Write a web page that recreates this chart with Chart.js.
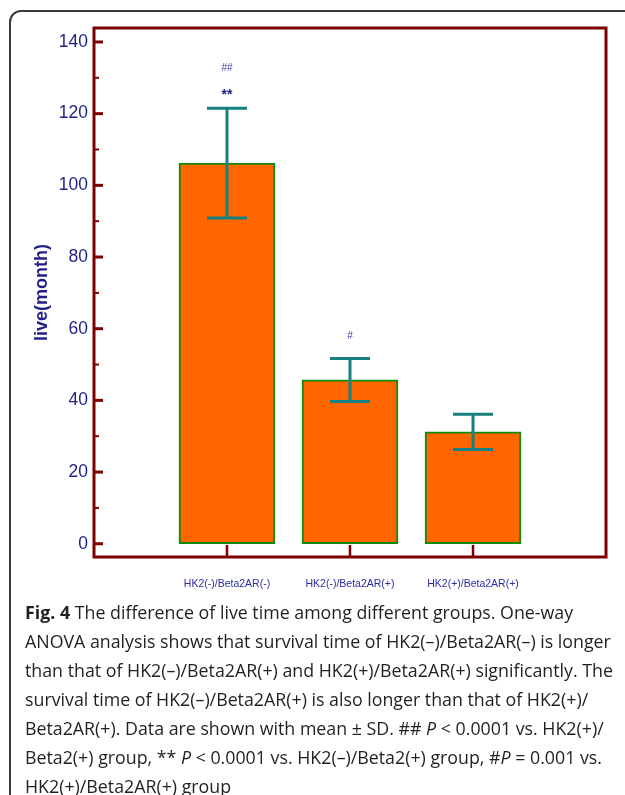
<!DOCTYPE html>
<html>
<head>
<meta charset="utf-8">
<script src="https://cdn.jsdelivr.net/npm/chart.js@4.4.1/dist/chart.umd.min.js"></script>
<style>
  html, body { margin: 0; padding: 0; background: #fff; overflow: hidden; }
  body { width: 625px; height: 795px; position: relative; }
  #frame {
    position: absolute; left: 9px; top: 10px; width: 650px; height: 820px;
    border: 2px solid #3a3a3a; border-radius: 12px; box-sizing: border-box;
  }
  #chart-box { position: absolute; left: 0; top: 0; width: 625px; height: 600px; }
  #caption {
    position: absolute; left: 25px; top: 598px;
    font-family: "Open Sans", sans-serif; font-size: 17.8px; line-height: 29px;
    color: #231f20; white-space: nowrap;
  }
  #caption b { font-weight: 700; }
</style>
</head>
<body>
<div id="frame"></div>
<div id="chart-box"><canvas id="bar-chart" width="625" height="600"></canvas></div>
<div id="caption">
  <b>Fig. 4</b> The difference of live time among different groups. One-way<br>
  ANOVA analysis shows that survival time of HK2(–)/Beta2AR(–) is longer<br>
  than that of HK2(–)/Beta2AR(+) and HK2(+)/Beta2AR(+) significantly. The<br>
  survival time of HK2(–)/Beta2AR(+) is also longer than that of HK2(+)/<br>
  Beta2AR(+). Data are shown with mean ± SD. ## <i>P</i> &lt; 0.0001 vs. HK2(+)/<br>
  Beta2(+) group, ** <i>P</i> &lt; 0.0001 vs. HK2(–)/Beta2(+) group, #<i>P</i> = 0.001 vs.<br>
  HK2(+)/Beta2AR(+) group
</div>
<script>
// chart data
const groups = ["HK2(-)/Beta2AR(-)", "HK2(-)/Beta2AR(+)", "HK2(+)/Beta2AR(+)"];
const groupPos = [1, 2, 3];
const meanLive = [106.2, 45.7, 31.2];
const sdLive = [15.3, 6.0, 4.9];
const sigMarks = [["**", "##"], ["#"], []];
const yTicks = [0, 20, 40, 60, 80, 100, 120, 140];
const yMinorTicks = [10, 30, 50, 70, 90, 110, 130];

const axisRed = "#7d0000";
const navy = "#1f1f8a";

// frame, inside ticks, error bars and significance marks
const decorations = {
    id: "decorations",
    afterDatasetsDraw(chart) {
        const ctx = chart.ctx;
        const area = chart.chartArea;
        const xs = chart.scales.x;
        const ys = chart.scales.y;

        // error bars
        ctx.save();
        ctx.strokeStyle = "#178080";
        ctx.lineWidth = 3;
        meanLive.forEach((m, i) => {
            const x = xs.getPixelForValue(groupPos[i]);
            const top = ys.getPixelForValue(m + sdLive[i]);
            const bot = ys.getPixelForValue(m - sdLive[i]);
            ctx.beginPath();
            ctx.moveTo(x, top); ctx.lineTo(x, bot);
            ctx.moveTo(x - 20, top); ctx.lineTo(x + 20, top);
            ctx.moveTo(x - 20, bot); ctx.lineTo(x + 20, bot);
            ctx.stroke();
        });
        ctx.restore();

        // significance marks above error bars
        ctx.save();
        ctx.textAlign = "center";
        ctx.textBaseline = "middle";
        sigMarks.forEach((marks, i) => {
            const x = xs.getPixelForValue(groupPos[i]);
            const top = ys.getPixelForValue(meanLive[i] + sdLive[i]);
            marks.forEach((mark, j) => {
                const star = mark.indexOf("*") >= 0;
                ctx.fillStyle = star ? navy : "#3a3aa8";
                ctx.font = star ? "bold 14px 'Liberation Sans', sans-serif" : "10px 'Liberation Sans', sans-serif";
                const off = mark === "#" ? 22 : (j === 0 ? 13 : 40);
                ctx.fillText(mark, x, top - off);
            });
        });
        ctx.restore();

        // plot frame
        ctx.save();
        ctx.strokeStyle = axisRed;
        ctx.lineWidth = 3;
        ctx.strokeRect(area.left, area.top, area.right - area.left, area.bottom - area.top);

        // y ticks drawn inside the plot
        yTicks.forEach(v => {
            const y = ys.getPixelForValue(v);
            ctx.lineWidth = 3;
            ctx.beginPath();
            ctx.moveTo(area.left, y); ctx.lineTo(area.left + 9, y);
            ctx.stroke();
        });
        yMinorTicks.forEach(v => {
            const y = ys.getPixelForValue(v);
            ctx.lineWidth = 2;
            ctx.beginPath();
            ctx.moveTo(area.left, y); ctx.lineTo(area.left + 5, y);
            ctx.stroke();
        });
        // x ticks
        groupPos.forEach(p => {
            const x = xs.getPixelForValue(p);
            ctx.lineWidth = 2.5;
            ctx.beginPath();
            ctx.moveTo(x, area.bottom); ctx.lineTo(x, area.bottom - 12);
            ctx.stroke();
        });
        ctx.restore();
    }
};

const ctx = document.getElementById("bar-chart").getContext("2d");
new Chart(ctx, {
    type: "bar",
    data: {
        datasets: [{
            label: "live(month)",
            data: groupPos.map((p, i) => ({ x: p, y: meanLive[i] })),
            backgroundColor: "#ff6600",
            borderColor: "#0f8a0f",
            borderWidth: 2,
            borderSkipped: false,
            barThickness: 96
        }]
    },
    options: {
        responsive: false,
        animation: false,
        layout: { padding: { top: 28, right: 19, left: 0, bottom: 0 } },
        plugins: {
            legend: { display: false },
            tooltip: { enabled: false }
        },
        scales: {
            x: {
                type: "linear",
                offset: false,
                min: -0.081,
                max: 4.081,
                afterBuildTicks: scale => { scale.ticks = groupPos.map(v => ({ value: v })); },
                afterFit: scale => { scale.height = 43; },
                grid: { display: false, drawTicks: false, offset: false },
                border: { display: false },
                ticks: {
                    padding: 21,
                    color: "#2b2ba6",
                    font: { family: "'Liberation Sans', sans-serif", size: 10.5 },
                    callback: v => groups[groupPos.indexOf(v)] || ""
                }
            },
            y: {
                min: -3.7,
                max: 143.9,
                afterBuildTicks: scale => { scale.ticks = yTicks.map(v => ({ value: v })); },
                afterFit: scale => { scale.width = 94; },
                grid: { display: false, drawTicks: false },
                border: { display: false },
                title: {
                    display: true,
                    text: "live(month)",
                    color: navy,
                    font: { family: "'Liberation Sans', sans-serif", size: 18, weight: "bold" },
                    padding: { top: 31, bottom: 0 }
                },
                ticks: {
                    padding: 6,
                    color: navy,
                    font: { family: "'Liberation Sans', sans-serif", size: 17.5 }
                }
            }
        }
    },
    plugins: [decorations]
});
</script>
</body>
</html>
